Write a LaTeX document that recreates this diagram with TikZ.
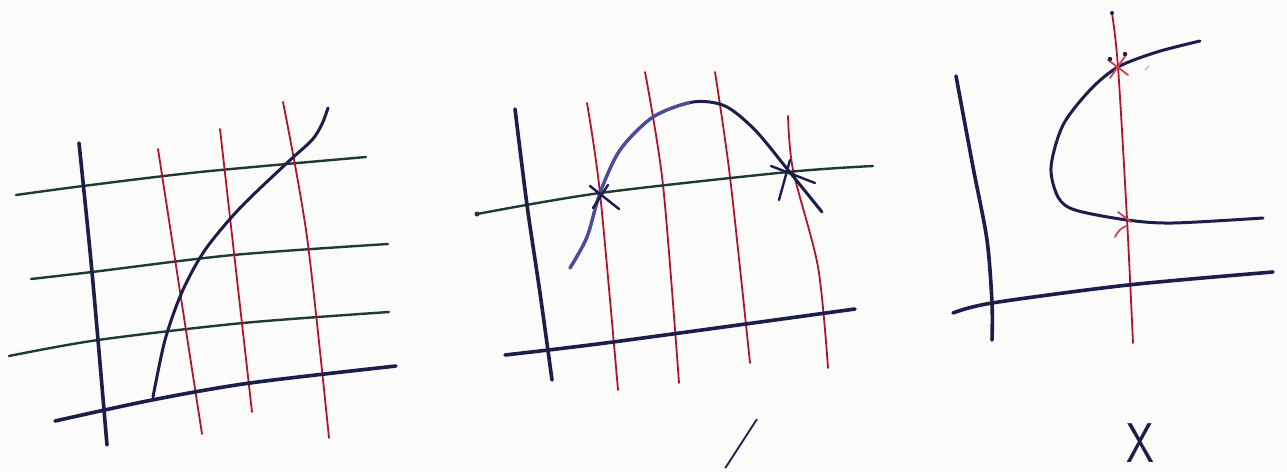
\documentclass[tikz,border=0pt]{standalone}
\usepackage{fontspec}
\definecolor{ink}{HTML}{1B1E4B}
\definecolor{inklight}{HTML}{4E4C9E}
\definecolor{redink}{HTML}{B3122E}
\definecolor{pinkred}{HTML}{D2405E}
\definecolor{greenink}{HTML}{1E3A36}
\definecolor{paper}{HTML}{FBFBFA}
\tikzset{
 axisline/.style={ink, line width=3.6pt, line cap=round, line join=round},
 gridh/.style={greenink, line width=2.4pt, line cap=round},
 gridv/.style={redink, line width=1.8pt, line cap=round},
 curveline/.style={ink, line width=3pt, line cap=round},
 starmark/.style={ink, line width=2.4pt, line cap=round},
 redmark/.style={pinkred, line width=1.8pt, line cap=round},
 handtext/.style={text=ink, font=\sffamily\fontsize{56}{56}\selectfont, inner sep=0pt}
}
\begin{document}
\begin{tikzpicture}[x=1pt,y=-1pt]
\fill[paper] (0,0) rectangle (1287,474);
\useasboundingbox (0,0) rectangle (1287,474);

% ---------- Panel 1 ----------
\draw[gridh] plot[smooth] coordinates {(16,195) (83,186) (200,172) (366,157)};
\draw[gridh] plot[smooth] coordinates {(31,279) (92,272) (233,255) (388,244)};
\draw[gridh] plot[smooth] coordinates {(9,356) (98,340) (243,323) (389,312)};
\draw[gridv] (158,149) -- (202,434);
\draw[gridv] (220,129) -- (252,412);
\draw[gridv] plot[smooth] coordinates {(283,102) (307,237) (329,438)};
\draw[axisline] plot[smooth] coordinates {(79,143) (92,272) (107,445)};
\draw[axisline] plot[smooth] coordinates {(55,421) (152,400) (250,383) (396,366)};
\draw[curveline] plot[smooth] coordinates {(153,397) (165,340) (182,292) (205,250) (240,208) (288,162) (312,140) (322,124) (328,108)};

% ---------- Panel 2 ----------
\draw[gridv] plot[smooth] coordinates {(587,103) (600,193) (618,390)};
\draw[gridv] plot[smooth] coordinates {(645,72) (663,185) (679,383)};
\draw[gridv] plot[smooth] coordinates {(715,72) (730,177) (750,363)};
\draw[gridv] plot[smooth] coordinates {(788,116) (793,170) (818,267) (828,368)};
\draw[gridh] plot[smooth] coordinates {(477,214) (600,193) (788,172) (873,166)};
\fill[greenink] (477,214) circle (2.5pt);
\draw[axisline] plot[smooth] coordinates {(515,109) (527,205) (540,293) (552,380)};
\draw[axisline] plot[smooth] coordinates {(505,355) (613,342) (855,309)};
\draw[curveline] plot[smooth] coordinates {(570,268) (587,237) (600,193) (620,150) (653,117) (693,102) (725,106) (755,130) (788,170) (822,212)};
\begin{scope}
\clip (560,60) rectangle (690,280);
\draw[curveline, inklight, line width=3.2pt] plot[smooth] coordinates {(570,268) (587,237) (600,193) (620,150) (653,117) (693,102) (725,106) (755,130) (788,170) (822,212)};
\end{scope}
\draw[starmark] (590,186) -- (619,209);
\draw[starmark] (593,208) -- (608,185);
\draw[starmark] (771,166) -- (815,183);
\draw[starmark] (779,200) -- (790,160);

% ---------- Panel 3 ----------
\draw[gridv] plot[smooth] coordinates {(1112,13) (1118,67) (1127,219) (1133,343)};
\fill[ink] (1112,13) circle (2pt);
\draw[axisline] plot[smooth] coordinates {(956,76) (973,167) (987,240) (992,303) (992,340)};
\draw[axisline] plot[smooth] coordinates {(953,313) (992,303) (1128,285) (1273,272)};
\draw[curveline] plot[smooth] coordinates {(1200,41) (1157,52) (1118,67) (1090,90) (1063,125) (1051,167) (1058,197) (1075,210) (1127,220) (1173,223) (1263,218)};
\draw[redmark] (1108,60) -- (1128,75);
\draw[redmark] (1110,78) -- (1126,55);
\fill[ink] (1110,59) circle (2.2pt);
\fill[ink] (1125,54) circle (2.2pt);
\draw[redmark] (1118,212) -- (1131,222);
\draw[redmark] (1115,237) to[bend left=20] (1126,226);
\draw[inklight!40, line width=1.2pt, line cap=round] (1145,70) -- (1149,66);

% ---------- Marks below ----------
\node[handtext, rotate=-14] (tick) at (742,444) {/};
\node[handtext, xscale=0.8] (cross) at (1140,443) {X};
\end{tikzpicture}
\end{document}
